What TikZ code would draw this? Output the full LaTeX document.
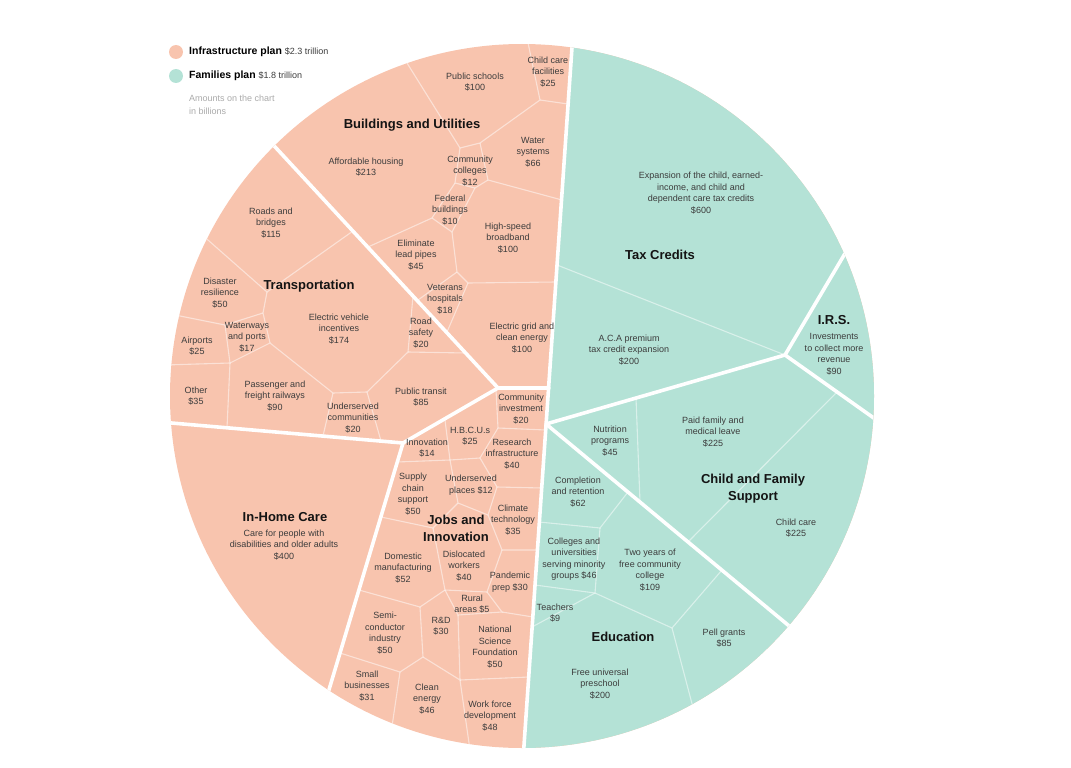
\documentclass[tikz,border=0pt]{standalone}
\usepackage{fontspec}
\setmainfont{Liberation Sans}
\definecolor{infra}{HTML}{F8C4AE}
\definecolor{fam}{HTML}{B4E2D6}
\definecolor{greytext}{HTML}{AAAAAA}
\definecolor{labeltext}{HTML}{3C3C3C}

\begin{document}
\begin{tikzpicture}[x=1pt,y=-1pt,
	bigcut/.style={white,line width=3.6pt,line cap=round},
	smallcut/.style={white,opacity=0.5,line width=1.1pt},
	lbl/.style={align=center,inner sep=0,text=labeltext,font=\fontsize{9}{11.5}\selectfont},
	ttl/.style={align=center,inner sep=0,text=black!92,font=\fontsize{13}{17}\selectfont\bfseries}]
	\useasboundingbox (0,0) rectangle (1071,768);
	% pie
	\begin{scope}
		\clip (522,396) circle[radius=352pt];
		\fill[infra] (0,0) rectangle (1071,768);
		\fill[fam] (573.2,30) -- (523,760) -- (900,760) -- (900,30) -- cycle;
		% buildings and utilities
		\draw[smallcut] (402,55) -- (460,148) -- (480,143) -- (540,100) -- (527,38);
		\draw[smallcut] (540,100) -- (568,104);
		\draw[smallcut] (480,143) -- (488,180) -- (562,200);
		\draw[smallcut] (488,180) -- (475,188) -- (455,183) -- (460,148);
		\draw[smallcut] (455,183) -- (432,218) -- (368,247);
		\draw[smallcut] (475,188) -- (452,232) -- (432,218);
		\draw[smallcut] (452,232) -- (457,272) -- (468,283) -- (556,282);
		\draw[smallcut] (468,283) -- (447,332);
		\draw[smallcut] (457,272) -- (418,300);
		% transportation
		\draw[smallcut] (200,233) -- (267,292) -- (353,231);
		\draw[smallcut] (267,292) -- (263,313) -- (270,343);
		\draw[smallcut] (165,313) -- (225,325) -- (263,313);
		\draw[smallcut] (225,325) -- (230,363) -- (165,365);
		\draw[smallcut] (230,363) -- (270,343) -- (333,393) -- (367,392);
		\draw[smallcut] (230,363) -- (227,428);
		\draw[smallcut] (333,393) -- (323,436);
		\draw[smallcut] (367,392) -- (381,441);
		\draw[smallcut] (367,392) -- (408,352) -- (413,296);
		\draw[smallcut] (408,352) -- (466,353);
		% jobs and innovation
		\draw[smallcut] (496,390) -- (498,428) -- (546,430);
		\draw[smallcut] (498,428) -- (480,458) -- (497,487) -- (542,488);
		\draw[smallcut] (445,420) -- (450,460);
		\draw[smallcut] (397,462) -- (450,460) -- (480,458);
		\draw[smallcut] (450,460) -- (458,503) -- (488,515) -- (497,487);
		\draw[smallcut] (381,517) -- (433,528) -- (458,503);
		\draw[smallcut] (488,515) -- (502,550) -- (538,550);
		\draw[smallcut] (433,528) -- (445,590) -- (487,592) -- (502,550);
		\draw[smallcut] (487,592) -- (502,612) -- (458,615) -- (445,590);
		\draw[smallcut] (502,612) -- (533,617);
		\draw[smallcut] (445,590) -- (420,607) -- (359,590);
		\draw[smallcut] (420,607) -- (423,657) -- (400,672) -- (340,653);
		\draw[smallcut] (423,657) -- (460,680) -- (458,615);
		\draw[smallcut] (400,672) -- (390,740);
		\draw[smallcut] (460,680) -- (470,750);
		\draw[smallcut] (460,680) -- (529,677);
		% families side
		\draw[smallcut] (557,265) -- (785,355);
		\draw[smallcut] (636,398) -- (640,502);
		\draw[smallcut] (837,392) -- (688,542);
		\draw[smallcut] (628,492) -- (600,528) -- (539,522);
		\draw[smallcut] (600,528) -- (595,593) -- (535,585);
		\draw[smallcut] (595,593) -- (532,627);
		\draw[smallcut] (595,593) -- (672,628) -- (722,570);
		\draw[smallcut] (672,628) -- (695,715);
		% main cuts
		\draw[bigcut] (573.2,30) -- (523,760);
		\draw[bigcut] (265,136) -- (498,388) -- (549,388);
		\draw[bigcut] (498,388) -- (403,443) -- (160,422);
		\draw[bigcut] (403,443) -- (325,703);
		\draw[bigcut] (546,424) -- (800,635);
		\draw[bigcut] (546,424) -- (785,355) -- (850,245);
		\draw[bigcut] (785,355) -- (885,426);
	\end{scope}
	% legend
	\fill[infra] (176,52) circle[radius=7pt];
	\fill[fam] (176,76) circle[radius=7pt];
	\node[anchor=west,inner sep=0] (infrakey) at (189,52) {\fontsize{10.5}{12}\selectfont\bfseries Infrastructure plan \fontsize{9}{10}\selectfont\mdseries\color{labeltext}\$2.3 trillion};
	\node[anchor=west,inner sep=0] (famkey) at (189,76) {\fontsize{10.5}{12}\selectfont\bfseries Families plan \fontsize{9}{10}\selectfont\mdseries\color{labeltext}\$1.8 trillion};
	\node[anchor=north west,inner sep=0,align=left,text=greytext,font=\fontsize{9}{12.5}\selectfont] (amounts) at (189,95) {Amounts on the chart\\in billions};
	% group titles
	\node[ttl] (buildings) at (412,125) {Buildings and Utilities};
	\node[ttl] (transport) at (309,286) {Transportation};
	\node[ttl] (homecare) at (285,517) {In-Home Care};
	\node[ttl] (jobs) at (456,528) {Jobs and\\Innovation};
	\node[ttl] (taxcredits) at (660,255) {Tax Credits};
	\node[ttl] (irs) at (834,320) {I.R.S.};
	\node[ttl] (childfam) at (753,489) {Child and Family\\Support};
	\node[ttl] (education) at (623,637) {Education};
	% buildings and utilities
	\node[lbl] (schools) at (475,82) {Public schools\\\$100};
	\node[lbl] (childfac) at (548,72) {Child care\\facilities\\\$25};
	\node[lbl] (housing) at (366,167) {Affordable housing\\\$213};
	\node[lbl] (colleges) at (470,171) {Community\\colleges\\\$12};
	\node[lbl] (water) at (533,152) {Water\\systems\\\$66};
	\node[lbl] (federal) at (450,210) {Federal\\buildings\\\$10};
	\node[lbl] (broadband) at (508,238) {High-speed\\broadband\\\$100};
	\node[lbl] (leadpipes) at (416,255) {Eliminate\\lead pipes\\\$45};
	\node[lbl] (veterans) at (445,299) {Veterans\\hospitals\\\$18};
	\node[lbl] (grid) at (522,338) {Electric grid and\\clean energy\\\$100};
	% transportation
	\node[lbl] (roads) at (271,223) {Roads and\\bridges\\\$115};
	\node[lbl] (disaster) at (220,293) {Disaster\\resilience\\\$50};
	\node[lbl] (airports) at (197,346) {Airports\\\$25};
	\node[lbl] (waterways) at (247,337) {Waterways\\and ports\\\$17};
	\node[lbl] (evs) at (339,329) {Electric vehicle\\incentives\\\$174};
	\node[lbl] (roadsafety) at (421,333) {Road\\safety\\\$20};
	\node[lbl] (other) at (196,396) {Other\\\$35};
	\node[lbl] (rail) at (275,396) {Passenger and\\freight railways\\\$90};
	\node[lbl] (undercomm) at (353,418) {Underserved\\communities\\\$20};
	\node[lbl] (transit) at (421,397) {Public transit\\\$85};
	% in-home care
	\node[lbl] (care) at (284,545) {Care for people with\\disabilities and older adults\\\$400};
	% jobs and innovation
	\node[lbl] (community) at (521,409) {Community\\investment\\\$20};
	\node[lbl] (hbcu) at (470,436) {H.B.C.U.s\\\$25};
	\node[lbl] (innovation) at (427,448) {Innovation\\\$14};
	\node[lbl] (research) at (512,454) {Research\\infrastructure\\\$40};
	\node[lbl] (supply) at (413,494) {Supply\\chain\\support\\\$50};
	\node[lbl] (underplaces) at (471,485) {Underserved\\places \$12};
	\node[lbl] (climate) at (513,520) {Climate\\technology\\\$35};
	\node[lbl] (domestic) at (403,568) {Domestic\\manufacturing\\\$52};
	\node[lbl] (dislocated) at (464,566) {Dislocated\\workers\\\$40};
	\node[lbl] (pandemic) at (510,582) {Pandemic\\prep \$30};
	\node[lbl] (rural) at (472,604) {Rural\\areas \$5};
	\node[lbl] (semi) at (385,633) {Semi-\\conductor\\industry\\\$50};
	\node[lbl] (rnd) at (441,626) {R\&D\\\$30};
	\node[lbl] (nsf) at (495,647) {National\\Science\\Foundation\\\$50};
	\node[lbl] (small) at (367,686) {Small\\businesses\\\$31};
	\node[lbl] (clean) at (427,699) {Clean\\energy\\\$46};
	\node[lbl] (workforce) at (490,716) {Work force\\development\\\$48};
	% tax credits
	\node[lbl] (expansion) at (701,193) {Expansion of the child, earned-\\income, and child and\\dependent care tax credits\\\$600};
	\node[lbl] (aca) at (629,350) {A.C.A premium\\tax credit expansion\\\$200};
	\node[lbl] (collect) at (834,354) {Investments\\to collect more\\revenue\\\$90};
	% child and family support
	\node[lbl] (nutrition) at (610,441) {Nutrition\\programs\\\$45};
	\node[lbl] (leave) at (713,432) {Paid family and\\medical leave\\\$225};
	\node[lbl] (childcare) at (796,528) {Child care\\\$225};
	% education
	\node[lbl] (completion) at (578,492) {Completion\\and retention\\\$62};
	\node[lbl] (minority) at (574,559) {Colleges and\\universities\\serving minority\\groups \$46};
	\node[lbl] (twoyears) at (650,570) {Two years of\\free community\\college\\\$109};
	\node[lbl] (teachers) at (555,613) {Teachers\\\$9};
	\node[lbl] (pell) at (724,638) {Pell grants\\\$85};
	\node[lbl] (preschool) at (600,684) {Free universal\\preschool\\\$200};
\end{tikzpicture}
\end{document}
